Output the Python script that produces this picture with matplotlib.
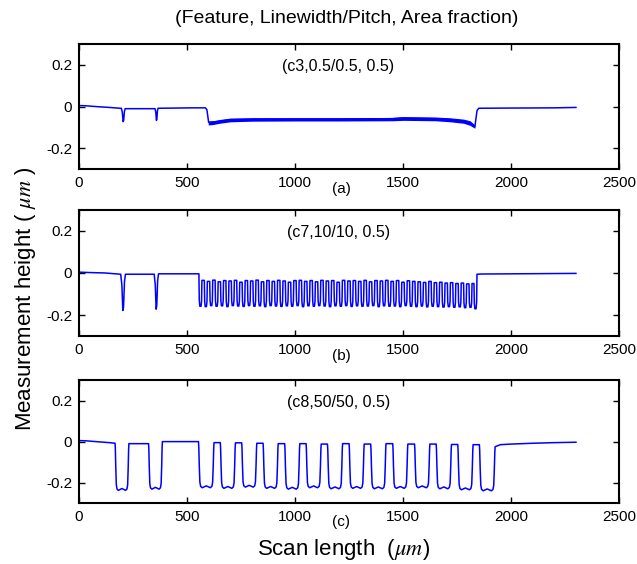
import numpy as np
import matplotlib.pyplot as plt

plt.rcParams['font.family'] = ['Liberation Sans', 'DejaVu Sans']
plt.rcParams['mathtext.fontset'] = 'stix'

# ==============================================================================
# labels
title = "(Feature, Linewidth/Pitch, Area fraction)"
panel_tags = ["(c3,0.5/0.5, 0.5)", "(c7,10/10, 0.5)", "(c8,50/50, 0.5)"]
panel_letters = ["(a)", "(b)", "(c)"]
x_ticks = [0, 500, 1000, 1500, 2000, 2500]
y_ticks = [0.2, 0, -0.2]
y_tick_labels = ["0.2", "0", "-0.2"]

# (a) c3 -- scan position (um) / height (um)
a_start_x = [0, 30, 80, 140, 190]
a_start_y = [0.005, 0.004, 0.0, -0.004, -0.008]
a_left = [196, 352]
a_right = [214, 366]
a_bottom = [-0.072, -0.066]
a_top_after = [-0.010, -0.008]
a_end_x = [450, 520, 585, 592, 600, 640, 700, 900, 1200, 1450, 1500, 1650, 1720, 1780, 1810, 1832, 1842, 1850, 2000, 2200, 2300]
a_end_y = [-0.007, -0.006, -0.006, -0.015, -0.075, -0.072, -0.063, -0.060, -0.060, -0.058, -0.055, -0.058, -0.062, -0.070, -0.080, -0.098, -0.020, -0.008, -0.007, -0.006, -0.004]
# noisy band over the fine lines
a_band_x = [598, 620, 650, 700, 800, 1000, 1200, 1450, 1500, 1650, 1720, 1780, 1810, 1832]
a_band_lo = [-0.088, -0.086, -0.080, -0.073, -0.070, -0.069, -0.069, -0.068, -0.066, -0.068, -0.073, -0.080, -0.090, -0.104]
a_band_hi = [-0.070, -0.068, -0.062, -0.055, -0.053, -0.053, -0.053, -0.052, -0.048, -0.050, -0.054, -0.060, -0.068, -0.088]

# (b) c7
b_start_x = [0, 50, 120, 180, 190]
b_start_y = [0.004, 0.002, 0.0, -0.005, -0.006]
b_iso_left = [193, 348]
b_iso_right = [215, 368]
b_iso_bottom = [-0.178, -0.172]
b_iso_top_after = [-0.006, -0.004]
b_left = [555, 580, 605, 630, 655, 680, 705, 730, 755, 780, 805, 830, 855, 880, 905, 930, 955,
          980, 1005, 1030, 1055, 1080, 1105, 1130, 1155, 1180, 1205, 1230, 1255, 1280, 1305, 1330,
          1355, 1380, 1405, 1430, 1455, 1480, 1505, 1530, 1555, 1580, 1605, 1630, 1655, 1680, 1705,
          1730, 1755, 1780, 1805, 1828]
b_width = [14] * 51 + [14]
b_bottom = [-0.158, -0.160, -0.155, -0.158, -0.156, -0.160, -0.155, -0.157, -0.159, -0.155, -0.158,
            -0.156, -0.160, -0.155, -0.157, -0.159, -0.156, -0.158, -0.155, -0.160, -0.156, -0.158,
            -0.155, -0.157, -0.160, -0.156, -0.158, -0.155, -0.159, -0.156, -0.158, -0.157, -0.155,
            -0.160, -0.156, -0.158, -0.157, -0.160, -0.155, -0.158, -0.160, -0.157, -0.161, -0.158,
            -0.160, -0.162, -0.160, -0.163, -0.161, -0.165, -0.163, -0.170]
b_top_after = [-0.035, -0.040, -0.034, -0.042, -0.036, -0.038, -0.035, -0.044, -0.036, -0.038, -0.034,
               -0.042, -0.036, -0.040, -0.035, -0.038, -0.044, -0.036, -0.035, -0.040, -0.036, -0.042,
               -0.035, -0.038, -0.036, -0.044, -0.035, -0.038, -0.036, -0.040, -0.035, -0.042, -0.036,
               -0.038, -0.035, -0.040, -0.036, -0.044, -0.037, -0.040, -0.042, -0.045, -0.040, -0.046,
               -0.044, -0.048, -0.046, -0.050, -0.048, -0.052, -0.050, -0.006]
b_end_x = [1860, 2000, 2150, 2290, 2300]
b_end_y = [-0.005, -0.004, -0.003, -0.002, -0.002]

# (c) c8
c_start_x = [0, 30, 80, 140, 165]
c_start_y = [0.005, 0.004, 0.0, -0.005, -0.008]
c_left = [167, 322, 553, 654, 753, 852, 952, 1051, 1150, 1250, 1350, 1452, 1553, 1653, 1753, 1853]
c_right = [231, 386, 625, 724, 823, 922, 1022, 1121, 1220, 1320, 1421, 1522, 1624, 1724, 1824, 1926]
c_bottom = [-0.238, -0.232, -0.225, -0.228, -0.222, -0.228, -0.232, -0.225, -0.230, -0.228, -0.230,
            -0.228, -0.225, -0.230, -0.235, -0.240]
c_top_after = [-0.010, 0.000, -0.005, -0.006, -0.008, -0.010, -0.010, -0.012, -0.010, -0.012, -0.010,
               -0.012, -0.012, -0.014, -0.015, -0.025]
c_end_x = [1950, 2000, 2100, 2200, 2300]
c_end_y = [-0.015, -0.012, -0.008, -0.005, -0.003]

# trench outlines (fraction across width, fraction of depth)
spike_u = [0, 0.25, 0.45, 0.6, 0.8, 1]
spike_d = [0, 0.3, 1, 0.9, 0.2, 0]
narrow_u = [0, 0.12, 0.3, 0.7, 0.88, 1]
narrow_d = [0, 0.8, 1, 1, 0.8, 0]
wide_u = [0, 0.02, 0.05, 0.09, 0.14, 0.24, 0.5, 0.76, 0.86, 0.91, 0.95, 0.98, 1]
wide_d = [0, 0.12, 0.5, 0.88, 0.97, 1.0, 0.96, 1.0, 0.97, 0.88, 0.5, 0.12, 0]


# ==============================================================================
def add_trenches(xs, ys, left, right, bottom, top_after, shape_u, shape_d):
    for xl, xr, yb, yt in zip(left, right, bottom, top_after):
        y0 = ys[-1]
        for u, d in zip(shape_u, shape_d):
            xs.append(xl + u * (xr - xl))
            if u <= 0.5:
                ys.append(y0 + d * (yb - y0))
            else:
                ys.append(yt + d * (yb - yt))


def style_axes(ax, tag, letter):
    ax.set_xlim(0, 2500)
    ax.set_ylim(-0.3, 0.3)
    ax.set_xticks(x_ticks)
    ax.set_yticks(y_ticks)
    ax.set_yticklabels(y_tick_labels)
    ax.tick_params(direction='in', top=True, right=True, length=4, width=1,
                   labelsize=11, pad=5)
    for s in ax.spines.values():
        s.set_linewidth(1.5)
    ax.text(0.48, 0.82, tag, transform=ax.transAxes, ha='center', va='center', fontsize=11.5)
    ax.text(0.485, -0.155, letter, transform=ax.transAxes, ha='center', va='center', fontsize=11)


# ==============================================================================
fig = plt.figure(figsize=(6.37, 5.64), dpi=100)
ax_a = fig.add_axes([0.124, 0.700, 0.848, 0.222])
ax_b = fig.add_axes([0.124, 0.404, 0.848, 0.224])
ax_c = fig.add_axes([0.124, 0.108, 0.848, 0.218])

line_kw = dict(color='#0000ff', lw=1.1)

xs, ys = list(a_start_x), list(a_start_y)
add_trenches(xs, ys, a_left, a_right, a_bottom, a_top_after, spike_u, spike_d)
xs += a_end_x
ys += a_end_y
ax_a.plot(xs, ys, **line_kw)
ax_a.fill_between(a_band_x, a_band_lo, a_band_hi, color='#0000ff', lw=0)

xs, ys = list(b_start_x), list(b_start_y)
add_trenches(xs, ys, b_iso_left, b_iso_right, b_iso_bottom, b_iso_top_after, spike_u, spike_d)
b_right = [l + w for l, w in zip(b_left, b_width)]
add_trenches(xs, ys, b_left, b_right, b_bottom, b_top_after, narrow_u, narrow_d)
xs += b_end_x
ys += b_end_y
ax_b.plot(xs, ys, **line_kw)

xs, ys = list(c_start_x), list(c_start_y)
add_trenches(xs, ys, c_left, c_right, c_bottom, c_top_after, wide_u, wide_d)
xs += c_end_x
ys += c_end_y
ax_c.plot(xs, ys, **line_kw)

for ax, tag, letter in zip([ax_a, ax_b, ax_c], panel_tags, panel_letters):
    style_axes(ax, tag, letter)

fig.text(0.545, 0.968, title, ha='center', va='center', fontsize=14)
fig.text(0.040, 0.47, r"Measurement height ( $\mu m$ )", rotation=90,
         ha='center', va='center', fontsize=16)
fig.text(0.54, 0.025, r"Scan length  ($\mu m$)", ha='center', va='center', fontsize=16)

fig.savefig("out.png", dpi=100)
